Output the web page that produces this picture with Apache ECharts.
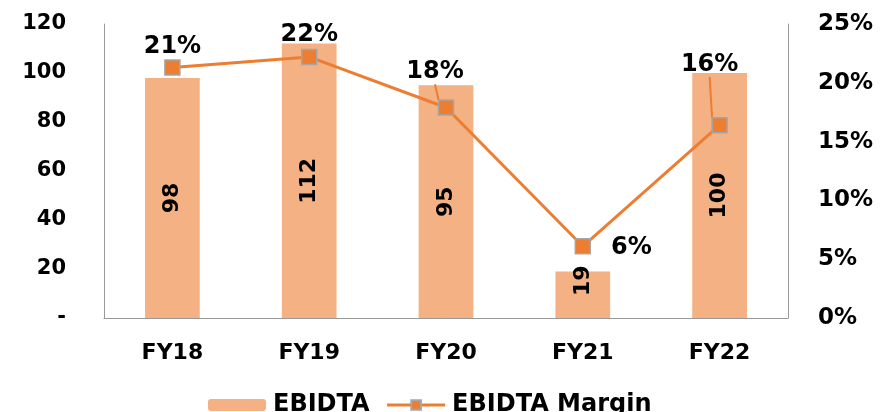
<!DOCTYPE html>
<html>
<head>
<meta charset="utf-8">
<script src="https://cdn.jsdelivr.net/npm/echarts@6/dist/echarts.min.js"></script>
<style>
  html, body { margin: 0; padding: 0; background: #fff; }
  #chart { width: 882px; height: 412px; }
</style>
</head>
<body>
<div id="chart"></div>
<script>
// EBIDTA (bars, left axis) and EBIDTA margin in % (line, right axis)
const categories = ['FY18', 'FY19', 'FY20', 'FY21', 'FY22'];
const ebidta = [98, 112, 95, 19, 100];
const margin = [21.3, 22.2, 17.9, 6.1, 16.4];
const leftTicks = { min: 0, max: 120, interval: 20 };
const rightTicks = { min: 0, max: 25, interval: 5 };

const FONT = 'DejaVu Sans';
const textStyle = { fontFamily: FONT, fontWeight: 'bold', color: '#000' };

// nudges for the margin labels, in pixels from their default "top" place
const marginLabelShift = [[0, 5], [0, 3], [-11, -10], [15, 2], [-10, -35]];
const marginLabelGuide = [false, false, true, false, true];

const chart = echarts.init(document.getElementById('chart'));

chart.setOption({
  animation: false,
  grid: { left: 104, right: 94, top: 24, bottom: 94 },
  legend: {
    top: 388,
    left: 203,
    itemWidth: 58,
    itemHeight: 12,
    itemGap: 16,
    textStyle: Object.assign({ fontSize: 24, padding: [0, 0, 0, 2] }, textStyle),
    data: [
      { name: 'EBIDTA' },
      { name: 'EBIDTA Margin', lineStyle: { width: 3 } }
    ]
  },
  xAxis: {
    type: 'category',
    data: categories,
    axisLine: { lineStyle: { color: '#999', width: 1 } },
    axisTick: { show: false },
    axisLabel: Object.assign({ fontSize: 22, margin: 24 }, textStyle)
  },
  yAxis: [
    {
      type: 'value',
      min: leftTicks.min, max: leftTicks.max, interval: leftTicks.interval,
      splitLine: { show: false },
      axisLine: { show: true, lineStyle: { color: '#999', width: 1 } },
      axisTick: { show: false },
      axisLabel: Object.assign({
        fontSize: 21, margin: 38,
        formatter: v => (v === 0 ? '-' : String(v))
      }, textStyle)
    },
    {
      type: 'value',
      min: rightTicks.min, max: rightTicks.max, interval: rightTicks.interval,
      splitLine: { show: false },
      axisLine: { show: true, lineStyle: { color: '#999', width: 1 } },
      axisTick: { show: false },
      axisLabel: Object.assign({
        fontSize: 23, margin: 30,
        formatter: v => v + '%'
      }, textStyle)
    }
  ],
  series: [
    {
      name: 'EBIDTA',
      type: 'bar',
      yAxisIndex: 0,
      barWidth: '40%',
      itemStyle: { color: '#F4B183' },
      data: ebidta.map((v, i) => i === 3
        ? { value: v, label: { offset: [14, 0] } }
        : v),
      label: Object.assign({
        show: true,
        position: 'inside',
        rotate: 90,
        fontSize: 22
      }, textStyle)
    },
    {
      name: 'EBIDTA Margin',
      type: 'line',
      yAxisIndex: 1,
      symbol: 'rect',
      symbolSize: 15,
      lineStyle: { color: '#ED7D31', width: 3 },
      itemStyle: { color: '#ED7D31', borderColor: '#A5A5A5', borderWidth: 1.5 },
      z: 3,
      data: margin.map((v, i) => ({
        value: v,
        label: i === 3 ? { position: 'right' } : {},
        labelLine: { show: marginLabelGuide[i] }
      })),
      label: Object.assign({
        show: true,
        position: 'top',
        fontSize: 24,
        formatter: p => Math.round(p.value) + '%'
      }, textStyle),
      labelLine: { show: false, lineStyle: { color: '#ED7D31', width: 2 } },
      labelLayout: p => ({ dx: marginLabelShift[p.dataIndex][0], dy: marginLabelShift[p.dataIndex][1] })
    }
  ]
});
</script>
</body>
</html>
